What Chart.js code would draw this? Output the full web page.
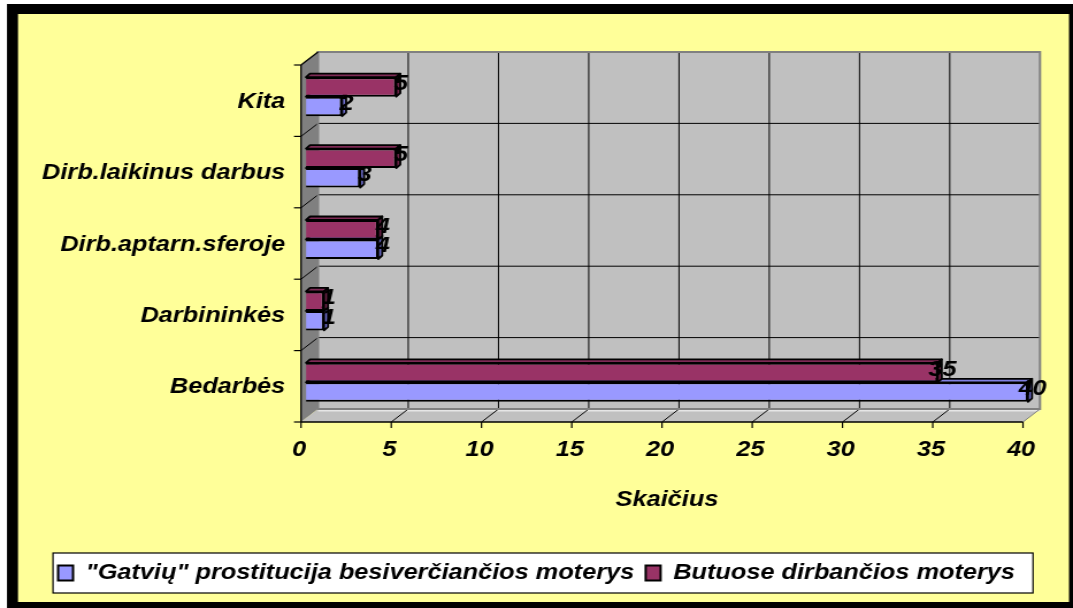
<!DOCTYPE html>
<html>
<head>
<meta charset="utf-8">
<script src="https://cdn.jsdelivr.net/npm/chart.js@4/dist/chart.umd.min.js"></script>
<style>
html,body{margin:0;padding:0;background:#fff;overflow:hidden;}
#wrap{width:1073px;height:608px;overflow:hidden;position:relative;}
#inner{position:absolute;left:0;top:0;width:933px;height:608px;transform:scale(1.15004,1);transform-origin:0 0;}
</style>
</head>
<body>
<div id="wrap"><div id="inner"><canvas id="c"></canvas></div></div>
<script>
// ---- data ----
const categories = ['Kita', 'Dirb.laikinus darbus', 'Dirb.aptarn.sferoje', 'Darbininkės', 'Bedarbės'];
const seriesNames = ['"Gatvių" prostitucija besiverčiančios moterys', 'Butuose dirbančios moterys'];
const gatviuValues = [2, 3, 4, 1, 40];
const butuoseValues = [5, 5, 4, 1, 35];
const xTicks = [0, 5, 10, 15, 20, 25, 30, 35, 40];
const axisTitle = 'Skaičius';

// ---- geometry / style ----
const S = 1073 / 933;            // horizontal stretch of the picture
const FONT = "'Liberation Sans', Arial, Helvetica, sans-serif";
const DEPTH = { dx: 17 / S, dy: -13 };     // full 3D depth of the walls
const BAR_OFF = { dx: 5 / S, dy: -4 };     // bar front face relative to front plane
const BAR_D = { dx: 4 / S, dy: -3.5 };     // bar thickness in depth
const lblFont = { family: FONT, size: 22, style: 'italic', weight: 'bold' };

function poly(ctx, pts, fill, stroke, lw) {
  ctx.beginPath();
  ctx.moveTo(pts[0][0], pts[0][1]);
  for (let i = 1; i < pts.length; i++) ctx.lineTo(pts[i][0], pts[i][1]);
  ctx.closePath();
  if (fill) { ctx.fillStyle = fill; ctx.fill(); }
  if (stroke) { ctx.strokeStyle = stroke; ctx.lineWidth = lw || 1; ctx.stroke(); }
}
function line(ctx, x1, y1, x2, y2, color, lw) {
  ctx.beginPath();
  ctx.moveTo(x1, y1); ctx.lineTo(x2, y2);
  ctx.strokeStyle = color; ctx.lineWidth = lw || 1; ctx.stroke();
}

function drawFaces(chart, dsIndex) {
  const ctx = chart.ctx;
  const meta = chart.getDatasetMeta(dsIndex);
  const ds = chart.data.datasets[dsIndex];
  meta.data.forEach(el => {
    const p = el.getProps(['x', 'y', 'base', 'height'], true);
    const top = p.y - p.height / 2, bot = p.y + p.height / 2;
    const L = Math.min(p.base, p.x), R = Math.max(p.base, p.x);
    const dx = BAR_D.dx, dy = BAR_D.dy;
    ctx.lineJoin = 'round';
    poly(ctx, [[L, top], [L + dx, top + dy], [R + dx, top + dy], [R, top]], ds.topColor, '#000', 1.8);
    poly(ctx, [[R, top], [R + dx, top + dy], [R + dx, bot + dy], [R, bot]], ds.sideColor, '#000', 1.8);
  });
}

const threeD = {
  id: 'threeD',
  beforeDraw(chart) {
    const ctx = chart.ctx, W = chart.width, H = chart.height;
    const xs = chart.scales.x, ys = chart.scales.y;
    ctx.save();
    // page + frame
    ctx.fillStyle = '#fff'; ctx.fillRect(0, 0, W, H);
    ctx.fillStyle = '#000'; ctx.fillRect(7 / S, 4, W - 7 / S, H - 4);
    ctx.fillStyle = '#FFFF99'; ctx.fillRect(18 / S, 14, (1069 - 18) / S, 602 - 14);

    const fx = v => xs.getPixelForValue(v) - BAR_OFF.dx;
    const fy = v => ys.getPixelForValue(v) - BAR_OFF.dy;
    const fTop = fy(-0.5), fBot = fy(categories.length - 0.5);
    const x0 = fx(xTicks[0]), x1 = fx(xTicks[xTicks.length - 1]);
    const dx = DEPTH.dx, dy = DEPTH.dy;

    // left wall
    poly(ctx, [[x0, fTop], [x0 + dx, fTop + dy], [x0 + dx, fBot + dy], [x0, fBot]], '#808080');
    // floor
    poly(ctx, [[x0, fBot], [x1, fBot], [x1 + dx, fBot + dy], [x0 + dx, fBot + dy]], '#C0C0C0');
    // back wall
    ctx.fillStyle = '#C0C0C0';
    ctx.fillRect(x0 + dx, fTop + dy, x1 - x0, fBot - fTop);

    // light edge where wall meets floor
    line(ctx, x0 + dx, fBot + dy + 1.5, x1 + dx, fBot + dy + 1.5, '#E6E6E6', 2);

    // horizontal grid (category boundaries) on back wall and left wall
    for (let k = 1; k < categories.length; k++) {
      const y = fy(k - 0.5);
      line(ctx, x0 + dx, y + dy, x1 + dx, y + dy, '#000', 1);
      line(ctx, x0, y, x0 + dx, y + dy, '#000', 1);
    }
    // vertical grid on back wall + floor diagonals
    xTicks.forEach((v, i) => {
      const x = fx(v);
      if (i > 0 && i < xTicks.length - 1) line(ctx, x + dx, fTop + dy, x + dx, fBot + dy, '#000', 1);
      if (i > 0) line(ctx, x, fBot, x + dx, fBot + dy, i === xTicks.length - 1 ? '#808080' : '#000', 1);
    });
    // wall outline
    ctx.strokeStyle = '#808080'; ctx.lineWidth = 2;
    ctx.strokeRect(x0 + dx, fTop + dy, x1 - x0, fBot - fTop);
    line(ctx, x0, fTop, x0 + dx, fTop + dy, '#000', 1.3);

    // axes
    line(ctx, x0, fTop, x0, fBot, '#000', 1.3);
    line(ctx, x0, fBot, x1, fBot, '#000', 1.3);
    xTicks.forEach(v => line(ctx, fx(v), fBot, fx(v), fBot + 6, '#000', 1.2));
    for (let k = 0; k <= categories.length; k++) {
      const y = fy(k - 0.5);
      line(ctx, x0 - 7 / S, y, x0, y, '#000', 1.2);
    }

    // legend frame
    ctx.fillStyle = '#fff';
    ctx.fillRect(53 / S, 553, (1033 - 53) / S, 40);
    ctx.strokeStyle = '#000'; ctx.lineWidth = 1.2;
    ctx.strokeRect(53 / S, 553, (1033 - 53) / S, 40);
    ctx.restore();
  },
  beforeDatasetsDraw(chart) {
    chart.ctx.save();
    drawFaces(chart, 1);   // lower bar in each pair
    chart.ctx.restore();
  },
  afterDatasetsDraw(chart) {
    const ctx = chart.ctx;
    ctx.save();
    drawFaces(chart, 0);   // upper bar in each pair
    // value labels
    ctx.font = 'italic bold 22px ' + FONT;
    ctx.fillStyle = '#000';
    ctx.textAlign = 'center';
    ctx.textBaseline = 'middle';
    [1, 0].forEach(di => {
      const meta = chart.getDatasetMeta(di);
      const vals = chart.data.datasets[di].data;
      meta.data.forEach((el, i) => {
        const p = el.getProps(['x', 'y'], true);
        ctx.fillText(String(vals[i]), p.x + 4, p.y - 3);
      });
    });
    ctx.restore();
  }
};

new Chart(document.getElementById('c'), {
  type: 'bar',
  data: {
    labels: categories,
    datasets: [
      { label: seriesNames[1], data: butuoseValues, backgroundColor: '#993366', borderColor: '#000', borderWidth: 2,
        topColor: '#7E2A55', sideColor: '#6A2246' },
      { label: seriesNames[0], data: gatviuValues, backgroundColor: '#9999FF', borderColor: '#000', borderWidth: 2,
        topColor: '#8080E0', sideColor: '#6C6CC8' }
    ]
  },
  options: {
    responsive: true,
    maintainAspectRatio: false,
    animation: false,
    indexAxis: 'y',
    layout: { padding: { left: 0, top: 61, right: 0, bottom: 14 } },
    datasets: { bar: { categoryPercentage: 0.546, barPercentage: 1 } },
    scales: {
      x: {
        type: 'linear', position: 'bottom', min: 0, max: 40,
        ticks: { stepSize: 5, color: '#000', font: lblFont, padding: 19, labelOffset: -6, maxRotation: 0, autoSkip: false },
        grid: { display: false, drawTicks: false },
        border: { display: false },
        title: { display: true, text: axisTitle, color: '#000', font: lblFont, padding: { top: 0, bottom: 39 } },
        afterFit(s) { s.height = 134; }
      },
      y: {
        type: 'category', position: 'left',
        ticks: { color: '#000', font: lblFont, padding: 18, labelOffset: 5, autoSkip: false },
        grid: { display: false, drawTicks: false },
        border: { display: false },
        afterFit(s) { s.width = 306 / S; }
      },
      yRight: {
        type: 'category', position: 'right', labels: categories,
        ticks: { display: false },
        grid: { display: false, drawTicks: false },
        border: { display: false },
        afterFit(s) { s.width = 933 - 1028 / S; }
      }
    },
    plugins: {
      legend: {
        position: 'bottom', reverse: true,
        labels: { boxWidth: 13, boxHeight: 15, padding: 10, color: '#000',
                  font: { family: FONT, size: 22, style: 'italic', weight: 'bold' } }
      },
      tooltip: { enabled: false }
    }
  },
  plugins: [threeD]
});
</script>
</body>
</html>
